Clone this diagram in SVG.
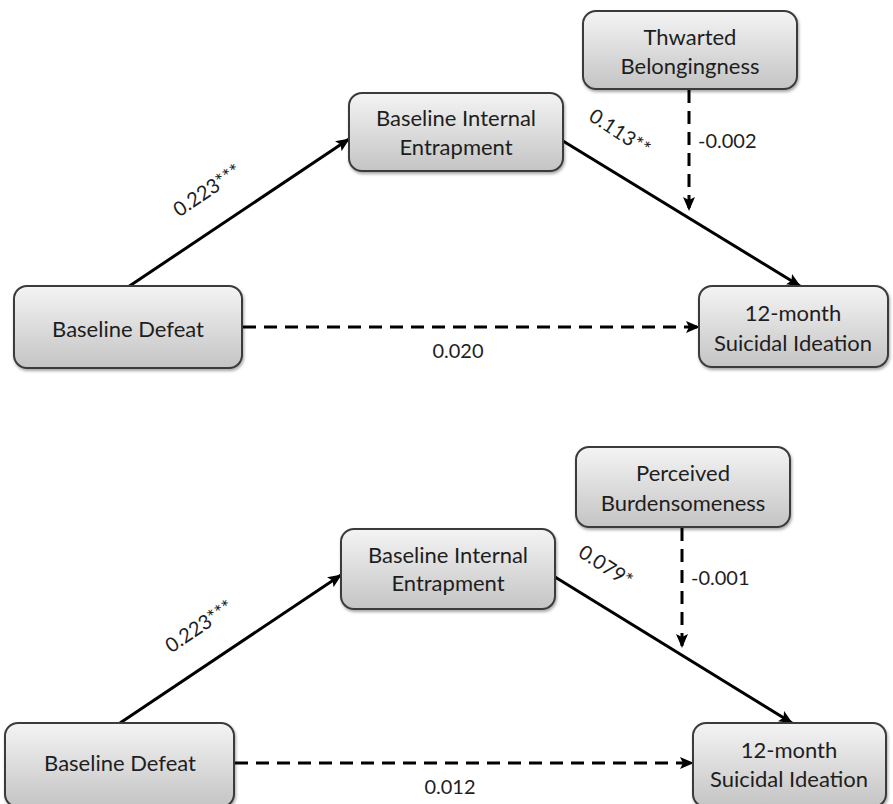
<svg xmlns="http://www.w3.org/2000/svg" width="893" height="804" viewBox="0 0 893 804">
<style>
.box{fill:url(#g);stroke:#3a3a3a;stroke-width:2;filter:url(#sh)}
.t{font-family:Lato,"Open Sans","Liberation Sans",sans-serif;font-size:22px;fill:#1e1e1e;text-anchor:middle}
.l{font-family:Lato,"Open Sans","Liberation Sans",sans-serif;font-size:20px;fill:#1e1e1e}
.s{stroke:#000;stroke-width:3;fill:none;marker-end:url(#a)}
.d{stroke:#000;stroke-width:3;fill:none;stroke-dasharray:13 8;marker-end:url(#a)}
</style>
<defs>
<linearGradient id="g" x1="0" y1="0" x2="0" y2="1">
<stop offset="0" stop-color="#f4f4f4"/>
<stop offset="1" stop-color="#c4c4c4"/>
</linearGradient>
<filter id="sh" x="-10%" y="-10%" width="120%" height="130%">
<feDropShadow dx="1" dy="2" stdDeviation="1.5" flood-color="#000" flood-opacity="0.35"/>
</filter>
<marker id="a" markerUnits="userSpaceOnUse" markerWidth="14" markerHeight="12" refX="13" refY="6" orient="auto">
<path d="M0,0 L14,6 L0,12 L3,6 Z" fill="#000"/>
</marker>
</defs>
<rect width="893" height="804" fill="#fff"/>
<g id="connectors">
<line class="s" x1="128" y1="287" x2="349" y2="139"/>
<line class="s" x1="563" y1="141" x2="800" y2="286"/>
<line class="d" x1="689" y1="90" x2="689" y2="210"/>
<line class="d" x1="243" y1="327" x2="699" y2="327"/>
<text class="l" transform="translate(211,196) rotate(-34)" text-anchor="middle">0.223***</text>
<text class="l" transform="translate(616,138) rotate(33)" text-anchor="middle">0.113**</text>
<text class="l" x="698" y="148">-0.002</text>
<text class="l" x="458" y="358" text-anchor="middle">0.020</text>
<line class="s" x1="120" y1="723" x2="341" y2="575"/>
<line class="s" x1="555" y1="577" x2="792" y2="723"/>
<line class="d" x1="682" y1="528" x2="682" y2="647"/>
<line class="d" x1="235" y1="763" x2="693" y2="763"/>
<text class="l" transform="translate(203,632) rotate(-34)" text-anchor="middle">0.223***</text>
<text class="l" transform="translate(602,572) rotate(33)" text-anchor="middle">0.079*</text>
<text class="l" x="691" y="585">-0.001</text>
<text class="l" x="450" y="794" text-anchor="middle">0.012</text>
</g>
<g id="defeat1">
<rect class="box" x="14" y="286" width="228" height="82" rx="13"/>
<text class="t" x="128" y="337">Baseline Defeat</text>
</g>
<g id="entrapment1">
<rect class="box" x="349" y="93" width="214" height="78" rx="13"/>
<text class="t" x="456" y="126">Baseline Internal</text>
<text class="t" x="456" y="155">Entrapment</text>
</g>
<g id="thwarted">
<rect class="box" x="583" y="11" width="214" height="78" rx="13"/>
<text class="t" x="690" y="45">Thwarted</text>
<text class="t" x="690" y="74">Belongingness</text>
</g>
<g id="ideation1">
<rect class="box" x="699" y="286" width="189" height="81" rx="13"/>
<text class="t" x="793" y="321">12-month</text>
<text class="t" x="793" y="351">Suicidal Ideation</text>
</g>
<g id="defeat2">
<rect class="box" x="5" y="723" width="229" height="84" rx="13"/>
<text class="t" x="120" y="771">Baseline Defeat</text>
</g>
<g id="entrapment2">
<rect class="box" x="341" y="529" width="214" height="80" rx="13"/>
<text class="t" x="448" y="563">Baseline Internal</text>
<text class="t" x="448" y="591">Entrapment</text>
</g>
<g id="perceived">
<rect class="box" x="576" y="447" width="214" height="80" rx="13"/>
<text class="t" x="683" y="481">Perceived</text>
<text class="t" x="683" y="511">Burdensomeness</text>
</g>
<g id="ideation2">
<rect class="box" x="693" y="723" width="193" height="84" rx="13"/>
<text class="t" x="789" y="758">12-month</text>
<text class="t" x="789" y="787">Suicidal Ideation</text>
</g>
</svg>
